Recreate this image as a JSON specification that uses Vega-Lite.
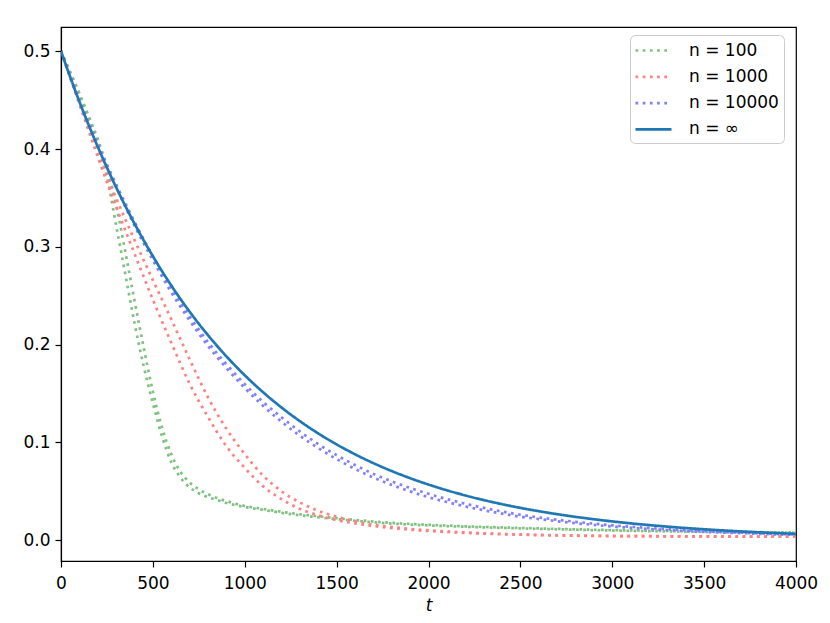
{
  "$schema": "https://vega.github.io/schema/vega-lite/v6.json",
  "width": 735,
  "height": 534,
  "autosize": {"type": "none"},
  "padding": {"left": 61, "top": 27, "right": 34, "bottom": 62},
  "background": "white",
  "datasets": {
    "curves": [
      {"n": "n = 100", "run": "a", "t": 0, "v": 0.5},
      {"n": "n = 100", "run": "a", "t": 50, "v": 0.478},
      {"n": "n = 100", "run": "a", "t": 100, "v": 0.456},
      {"n": "n = 100", "run": "a", "t": 150, "v": 0.432},
      {"n": "n = 100", "run": "a", "t": 200, "v": 0.407},
      {"n": "n = 100", "run": "a", "t": 250, "v": 0.372},
      {"n": "n = 100", "run": "a", "t": 300, "v": 0.322},
      {"n": "n = 100", "run": "a", "t": 350, "v": 0.272},
      {"n": "n = 100", "run": "a", "t": 400, "v": 0.222},
      {"n": "n = 100", "run": "a", "t": 450, "v": 0.178},
      {"n": "n = 100", "run": "a", "t": 500, "v": 0.140},
      {"n": "n = 100", "run": "a", "t": 550, "v": 0.106},
      {"n": "n = 100", "run": "a", "t": 600, "v": 0.080},
      {"n": "n = 100", "run": "a", "t": 650, "v": 0.064},
      {"n": "n = 100", "run": "a", "t": 700, "v": 0.054},
      {"n": "n = 100", "run": "a", "t": 750, "v": 0.048},
      {"n": "n = 100", "run": "a", "t": 800, "v": 0.044},
      {"n": "n = 100", "run": "a", "t": 850, "v": 0.041},
      {"n": "n = 100", "run": "a", "t": 900, "v": 0.038},
      {"n": "n = 100", "run": "a", "t": 1000, "v": 0.034},
      {"n": "n = 100", "run": "a", "t": 1100, "v": 0.031},
      {"n": "n = 100", "run": "a", "t": 1200, "v": 0.028},
      {"n": "n = 100", "run": "a", "t": 1300, "v": 0.0255},
      {"n": "n = 100", "run": "a", "t": 1400, "v": 0.0235},
      {"n": "n = 100", "run": "a", "t": 1500, "v": 0.0215},
      {"n": "n = 100", "run": "a", "t": 1600, "v": 0.0198},
      {"n": "n = 100", "run": "a", "t": 1700, "v": 0.0183},
      {"n": "n = 100", "run": "a", "t": 1800, "v": 0.0170},
      {"n": "n = 100", "run": "a", "t": 1900, "v": 0.0160},
      {"n": "n = 100", "run": "a", "t": 2000, "v": 0.0151},
      {"n": "n = 100", "run": "a", "t": 2200, "v": 0.0137},
      {"n": "n = 100", "run": "a", "t": 2400, "v": 0.0126},
      {"n": "n = 100", "run": "a", "t": 2600, "v": 0.0116},
      {"n": "n = 100", "run": "a", "t": 2800, "v": 0.0107},
      {"n": "n = 100", "run": "a", "t": 3000, "v": 0.0099},
      {"n": "n = 100", "run": "a", "t": 3200, "v": 0.0093},
      {"n": "n = 100", "run": "a", "t": 3400, "v": 0.0088},
      {"n": "n = 100", "run": "a", "t": 3600, "v": 0.0083},
      {"n": "n = 100", "run": "a", "t": 3800, "v": 0.0079},
      {"n": "n = 100", "run": "a", "t": 4000, "v": 0.0075},
      {"n": "n = 100", "run": "b", "t": 0, "v": 0.5},
      {"n": "n = 100", "run": "b", "t": 50, "v": 0.479},
      {"n": "n = 100", "run": "b", "t": 100, "v": 0.457},
      {"n": "n = 100", "run": "b", "t": 150, "v": 0.434},
      {"n": "n = 100", "run": "b", "t": 200, "v": 0.410},
      {"n": "n = 100", "run": "b", "t": 250, "v": 0.381},
      {"n": "n = 100", "run": "b", "t": 300, "v": 0.343},
      {"n": "n = 100", "run": "b", "t": 350, "v": 0.295},
      {"n": "n = 100", "run": "b", "t": 400, "v": 0.245},
      {"n": "n = 100", "run": "b", "t": 450, "v": 0.197},
      {"n": "n = 100", "run": "b", "t": 500, "v": 0.152},
      {"n": "n = 100", "run": "b", "t": 550, "v": 0.115},
      {"n": "n = 100", "run": "b", "t": 600, "v": 0.088},
      {"n": "n = 100", "run": "b", "t": 650, "v": 0.070},
      {"n": "n = 100", "run": "b", "t": 700, "v": 0.059},
      {"n": "n = 100", "run": "b", "t": 750, "v": 0.052},
      {"n": "n = 100", "run": "b", "t": 800, "v": 0.047},
      {"n": "n = 100", "run": "b", "t": 850, "v": 0.043},
      {"n": "n = 100", "run": "b", "t": 900, "v": 0.040},
      {"n": "n = 100", "run": "b", "t": 1000, "v": 0.035},
      {"n": "n = 100", "run": "b", "t": 1100, "v": 0.032},
      {"n": "n = 100", "run": "b", "t": 1200, "v": 0.029},
      {"n": "n = 100", "run": "b", "t": 1300, "v": 0.0265},
      {"n": "n = 100", "run": "b", "t": 1400, "v": 0.0245},
      {"n": "n = 100", "run": "b", "t": 1500, "v": 0.0225},
      {"n": "n = 100", "run": "b", "t": 1600, "v": 0.0207},
      {"n": "n = 100", "run": "b", "t": 1700, "v": 0.0191},
      {"n": "n = 100", "run": "b", "t": 1800, "v": 0.0177},
      {"n": "n = 100", "run": "b", "t": 1900, "v": 0.0166},
      {"n": "n = 100", "run": "b", "t": 2000, "v": 0.0157},
      {"n": "n = 100", "run": "b", "t": 2200, "v": 0.0142},
      {"n": "n = 100", "run": "b", "t": 2400, "v": 0.0130},
      {"n": "n = 100", "run": "b", "t": 2600, "v": 0.0120},
      {"n": "n = 100", "run": "b", "t": 2800, "v": 0.0111},
      {"n": "n = 100", "run": "b", "t": 3000, "v": 0.0103},
      {"n": "n = 100", "run": "b", "t": 3200, "v": 0.0097},
      {"n": "n = 100", "run": "b", "t": 3400, "v": 0.0091},
      {"n": "n = 100", "run": "b", "t": 3600, "v": 0.0086},
      {"n": "n = 100", "run": "b", "t": 3800, "v": 0.0082},
      {"n": "n = 100", "run": "b", "t": 4000, "v": 0.0078},
      {"n": "n = 1000", "run": "a", "t": 0, "v": 0.5},
      {"n": "n = 1000", "run": "a", "t": 100, "v": 0.446},
      {"n": "n = 1000", "run": "a", "t": 200, "v": 0.392},
      {"n": "n = 1000", "run": "a", "t": 300, "v": 0.341},
      {"n": "n = 1000", "run": "a", "t": 400, "v": 0.293},
      {"n": "n = 1000", "run": "a", "t": 500, "v": 0.246},
      {"n": "n = 1000", "run": "a", "t": 600, "v": 0.202},
      {"n": "n = 1000", "run": "a", "t": 700, "v": 0.160},
      {"n": "n = 1000", "run": "a", "t": 800, "v": 0.126},
      {"n": "n = 1000", "run": "a", "t": 900, "v": 0.096},
      {"n": "n = 1000", "run": "a", "t": 1000, "v": 0.074},
      {"n": "n = 1000", "run": "a", "t": 1100, "v": 0.055},
      {"n": "n = 1000", "run": "a", "t": 1200, "v": 0.042},
      {"n": "n = 1000", "run": "a", "t": 1300, "v": 0.032},
      {"n": "n = 1000", "run": "a", "t": 1400, "v": 0.0255},
      {"n": "n = 1000", "run": "a", "t": 1500, "v": 0.0205},
      {"n": "n = 1000", "run": "a", "t": 1600, "v": 0.0172},
      {"n": "n = 1000", "run": "a", "t": 1700, "v": 0.0145},
      {"n": "n = 1000", "run": "a", "t": 1800, "v": 0.0124},
      {"n": "n = 1000", "run": "a", "t": 1900, "v": 0.0107},
      {"n": "n = 1000", "run": "a", "t": 2000, "v": 0.0094},
      {"n": "n = 1000", "run": "a", "t": 2200, "v": 0.0075},
      {"n": "n = 1000", "run": "a", "t": 2400, "v": 0.0061},
      {"n": "n = 1000", "run": "a", "t": 2600, "v": 0.0052},
      {"n": "n = 1000", "run": "a", "t": 2800, "v": 0.0046},
      {"n": "n = 1000", "run": "a", "t": 3000, "v": 0.0042},
      {"n": "n = 1000", "run": "a", "t": 3200, "v": 0.0040},
      {"n": "n = 1000", "run": "a", "t": 3400, "v": 0.0038},
      {"n": "n = 1000", "run": "a", "t": 3600, "v": 0.0037},
      {"n": "n = 1000", "run": "a", "t": 3800, "v": 0.0036},
      {"n": "n = 1000", "run": "a", "t": 4000, "v": 0.0035},
      {"n": "n = 1000", "run": "b", "t": 0, "v": 0.5},
      {"n": "n = 1000", "run": "b", "t": 100, "v": 0.447},
      {"n": "n = 1000", "run": "b", "t": 200, "v": 0.397},
      {"n": "n = 1000", "run": "b", "t": 300, "v": 0.350},
      {"n": "n = 1000", "run": "b", "t": 400, "v": 0.307},
      {"n": "n = 1000", "run": "b", "t": 500, "v": 0.266},
      {"n": "n = 1000", "run": "b", "t": 600, "v": 0.226},
      {"n": "n = 1000", "run": "b", "t": 700, "v": 0.185},
      {"n": "n = 1000", "run": "b", "t": 800, "v": 0.146},
      {"n": "n = 1000", "run": "b", "t": 900, "v": 0.114},
      {"n": "n = 1000", "run": "b", "t": 1000, "v": 0.088},
      {"n": "n = 1000", "run": "b", "t": 1100, "v": 0.066},
      {"n": "n = 1000", "run": "b", "t": 1200, "v": 0.050},
      {"n": "n = 1000", "run": "b", "t": 1300, "v": 0.0386},
      {"n": "n = 1000", "run": "b", "t": 1400, "v": 0.030},
      {"n": "n = 1000", "run": "b", "t": 1500, "v": 0.0240},
      {"n": "n = 1000", "run": "b", "t": 1600, "v": 0.0192},
      {"n": "n = 1000", "run": "b", "t": 1700, "v": 0.0158},
      {"n": "n = 1000", "run": "b", "t": 1800, "v": 0.0134},
      {"n": "n = 1000", "run": "b", "t": 1900, "v": 0.0115},
      {"n": "n = 1000", "run": "b", "t": 2000, "v": 0.0100},
      {"n": "n = 1000", "run": "b", "t": 2200, "v": 0.0079},
      {"n": "n = 1000", "run": "b", "t": 2400, "v": 0.0064},
      {"n": "n = 1000", "run": "b", "t": 2600, "v": 0.0054},
      {"n": "n = 1000", "run": "b", "t": 2800, "v": 0.0048},
      {"n": "n = 1000", "run": "b", "t": 3000, "v": 0.0043},
      {"n": "n = 1000", "run": "b", "t": 3200, "v": 0.0041},
      {"n": "n = 1000", "run": "b", "t": 3400, "v": 0.0039},
      {"n": "n = 1000", "run": "b", "t": 3600, "v": 0.0038},
      {"n": "n = 1000", "run": "b", "t": 3800, "v": 0.0037},
      {"n": "n = 1000", "run": "b", "t": 4000, "v": 0.0036},
      {"n": "n = 10000", "run": "a", "t": 0, "v": 0.5},
      {"n": "n = 10000", "run": "a", "t": 100, "v": 0.4505},
      {"n": "n = 10000", "run": "a", "t": 200, "v": 0.4053},
      {"n": "n = 10000", "run": "a", "t": 300, "v": 0.3639},
      {"n": "n = 10000", "run": "a", "t": 400, "v": 0.3257},
      {"n": "n = 10000", "run": "a", "t": 500, "v": 0.2904},
      {"n": "n = 10000", "run": "a", "t": 600, "v": 0.2575},
      {"n": "n = 10000", "run": "a", "t": 700, "v": 0.2287},
      {"n": "n = 10000", "run": "a", "t": 800, "v": 0.2026},
      {"n": "n = 10000", "run": "a", "t": 900, "v": 0.1800},
      {"n": "n = 10000", "run": "a", "t": 1000, "v": 0.1596},
      {"n": "n = 10000", "run": "a", "t": 1100, "v": 0.1413},
      {"n": "n = 10000", "run": "a", "t": 1200, "v": 0.1257},
      {"n": "n = 10000", "run": "a", "t": 1300, "v": 0.1112},
      {"n": "n = 10000", "run": "a", "t": 1400, "v": 0.0982},
      {"n": "n = 10000", "run": "a", "t": 1500, "v": 0.0869},
      {"n": "n = 10000", "run": "a", "t": 1600, "v": 0.0769},
      {"n": "n = 10000", "run": "a", "t": 1700, "v": 0.0678},
      {"n": "n = 10000", "run": "a", "t": 1800, "v": 0.0602},
      {"n": "n = 10000", "run": "a", "t": 1900, "v": 0.0534},
      {"n": "n = 10000", "run": "a", "t": 2000, "v": 0.0474},
      {"n": "n = 10000", "run": "a", "t": 2100, "v": 0.0420},
      {"n": "n = 10000", "run": "a", "t": 2200, "v": 0.0373},
      {"n": "n = 10000", "run": "a", "t": 2300, "v": 0.0331},
      {"n": "n = 10000", "run": "a", "t": 2400, "v": 0.0293},
      {"n": "n = 10000", "run": "a", "t": 2500, "v": 0.0260},
      {"n": "n = 10000", "run": "a", "t": 2600, "v": 0.0233},
      {"n": "n = 10000", "run": "a", "t": 2700, "v": 0.0209},
      {"n": "n = 10000", "run": "a", "t": 2800, "v": 0.0188},
      {"n": "n = 10000", "run": "a", "t": 2900, "v": 0.0169},
      {"n": "n = 10000", "run": "a", "t": 3000, "v": 0.0152},
      {"n": "n = 10000", "run": "a", "t": 3100, "v": 0.0137},
      {"n": "n = 10000", "run": "a", "t": 3200, "v": 0.0124},
      {"n": "n = 10000", "run": "a", "t": 3300, "v": 0.0113},
      {"n": "n = 10000", "run": "a", "t": 3400, "v": 0.0102},
      {"n": "n = 10000", "run": "a", "t": 3500, "v": 0.0092},
      {"n": "n = 10000", "run": "a", "t": 3600, "v": 0.0084},
      {"n": "n = 10000", "run": "a", "t": 3700, "v": 0.0077},
      {"n": "n = 10000", "run": "a", "t": 3800, "v": 0.0069},
      {"n": "n = 10000", "run": "a", "t": 3900, "v": 0.0063},
      {"n": "n = 10000", "run": "a", "t": 4000, "v": 0.0058},
      {"n": "n = 10000", "run": "b", "t": 0, "v": 0.5},
      {"n": "n = 10000", "run": "b", "t": 100, "v": 0.4495},
      {"n": "n = 10000", "run": "b", "t": 200, "v": 0.4033},
      {"n": "n = 10000", "run": "b", "t": 300, "v": 0.3609},
      {"n": "n = 10000", "run": "b", "t": 400, "v": 0.3217},
      {"n": "n = 10000", "run": "b", "t": 500, "v": 0.2864},
      {"n": "n = 10000", "run": "b", "t": 600, "v": 0.2535},
      {"n": "n = 10000", "run": "b", "t": 700, "v": 0.2247},
      {"n": "n = 10000", "run": "b", "t": 800, "v": 0.1986},
      {"n": "n = 10000", "run": "b", "t": 900, "v": 0.1760},
      {"n": "n = 10000", "run": "b", "t": 1000, "v": 0.1556},
      {"n": "n = 10000", "run": "b", "t": 1100, "v": 0.1373},
      {"n": "n = 10000", "run": "b", "t": 1200, "v": 0.1212},
      {"n": "n = 10000", "run": "b", "t": 1300, "v": 0.1067},
      {"n": "n = 10000", "run": "b", "t": 1400, "v": 0.0942},
      {"n": "n = 10000", "run": "b", "t": 1500, "v": 0.0829},
      {"n": "n = 10000", "run": "b", "t": 1600, "v": 0.0729},
      {"n": "n = 10000", "run": "b", "t": 1700, "v": 0.0640},
      {"n": "n = 10000", "run": "b", "t": 1800, "v": 0.0565},
      {"n": "n = 10000", "run": "b", "t": 1900, "v": 0.0499},
      {"n": "n = 10000", "run": "b", "t": 2000, "v": 0.0439},
      {"n": "n = 10000", "run": "b", "t": 2100, "v": 0.0390},
      {"n": "n = 10000", "run": "b", "t": 2200, "v": 0.0345},
      {"n": "n = 10000", "run": "b", "t": 2300, "v": 0.0306},
      {"n": "n = 10000", "run": "b", "t": 2400, "v": 0.0271},
      {"n": "n = 10000", "run": "b", "t": 2500, "v": 0.0240},
      {"n": "n = 10000", "run": "b", "t": 2600, "v": 0.0216},
      {"n": "n = 10000", "run": "b", "t": 2700, "v": 0.0194},
      {"n": "n = 10000", "run": "b", "t": 2800, "v": 0.0173},
      {"n": "n = 10000", "run": "b", "t": 2900, "v": 0.0156},
      {"n": "n = 10000", "run": "b", "t": 3000, "v": 0.0140},
      {"n": "n = 10000", "run": "b", "t": 3100, "v": 0.0126},
      {"n": "n = 10000", "run": "b", "t": 3200, "v": 0.0114},
      {"n": "n = 10000", "run": "b", "t": 3300, "v": 0.0104},
      {"n": "n = 10000", "run": "b", "t": 3400, "v": 0.0094},
      {"n": "n = 10000", "run": "b", "t": 3500, "v": 0.0085},
      {"n": "n = 10000", "run": "b", "t": 3600, "v": 0.0078},
      {"n": "n = 10000", "run": "b", "t": 3700, "v": 0.0072},
      {"n": "n = 10000", "run": "b", "t": 3800, "v": 0.0065},
      {"n": "n = 10000", "run": "b", "t": 3900, "v": 0.0059},
      {"n": "n = 10000", "run": "b", "t": 4000, "v": 0.0055},
      {"n": "n = ∞", "run": "a", "t": 0, "v": 0.5},
      {"n": "n = ∞", "run": "a", "t": 100, "v": 0.44851},
      {"n": "n = ∞", "run": "a", "t": 200, "v": 0.40231},
      {"n": "n = ∞", "run": "a", "t": 300, "v": 0.36088},
      {"n": "n = ∞", "run": "a", "t": 400, "v": 0.32372},
      {"n": "n = ∞", "run": "a", "t": 500, "v": 0.29038},
      {"n": "n = ∞", "run": "a", "t": 600, "v": 0.26047},
      {"n": "n = ∞", "run": "a", "t": 700, "v": 0.23365},
      {"n": "n = ∞", "run": "a", "t": 800, "v": 0.20958},
      {"n": "n = ∞", "run": "a", "t": 900, "v": 0.18800},
      {"n": "n = ∞", "run": "a", "t": 1000, "v": 0.16864},
      {"n": "n = ∞", "run": "a", "t": 1100, "v": 0.15127},
      {"n": "n = ∞", "run": "a", "t": 1200, "v": 0.13569},
      {"n": "n = ∞", "run": "a", "t": 1300, "v": 0.12172},
      {"n": "n = ∞", "run": "a", "t": 1400, "v": 0.10918},
      {"n": "n = ∞", "run": "a", "t": 1500, "v": 0.09794},
      {"n": "n = ∞", "run": "a", "t": 1600, "v": 0.08785},
      {"n": "n = ∞", "run": "a", "t": 1700, "v": 0.07880},
      {"n": "n = ∞", "run": "a", "t": 1800, "v": 0.07069},
      {"n": "n = ∞", "run": "a", "t": 1900, "v": 0.06341},
      {"n": "n = ∞", "run": "a", "t": 2000, "v": 0.05688},
      {"n": "n = ∞", "run": "a", "t": 2100, "v": 0.05102},
      {"n": "n = ∞", "run": "a", "t": 2200, "v": 0.04577},
      {"n": "n = ∞", "run": "a", "t": 2300, "v": 0.04105},
      {"n": "n = ∞", "run": "a", "t": 2400, "v": 0.03683},
      {"n": "n = ∞", "run": "a", "t": 2500, "v": 0.03303},
      {"n": "n = ∞", "run": "a", "t": 2600, "v": 0.02963},
      {"n": "n = ∞", "run": "a", "t": 2700, "v": 0.02658},
      {"n": "n = ∞", "run": "a", "t": 2800, "v": 0.02384},
      {"n": "n = ∞", "run": "a", "t": 2900, "v": 0.02139},
      {"n": "n = ∞", "run": "a", "t": 3000, "v": 0.01919},
      {"n": "n = ∞", "run": "a", "t": 3100, "v": 0.01721},
      {"n": "n = ∞", "run": "a", "t": 3200, "v": 0.01544},
      {"n": "n = ∞", "run": "a", "t": 3300, "v": 0.01385},
      {"n": "n = ∞", "run": "a", "t": 3400, "v": 0.01242},
      {"n": "n = ∞", "run": "a", "t": 3500, "v": 0.01114},
      {"n": "n = ∞", "run": "a", "t": 3600, "v": 0.00999},
      {"n": "n = ∞", "run": "a", "t": 3700, "v": 0.00896},
      {"n": "n = ∞", "run": "a", "t": 3800, "v": 0.00804},
      {"n": "n = ∞", "run": "a", "t": 3900, "v": 0.00721},
      {"n": "n = ∞", "run": "a", "t": 4000, "v": 0.00647}
    ]
  },
  "data": {"name": "curves"},
  "mark": {"type": "line", "interpolate": "monotone", "strokeWidth": 2.7, "clip": true},
  "encoding": {
    "x": {
      "field": "t", "type": "quantitative",
      "scale": {"domain": [0, 4000], "nice": false, "zero": false},
      "axis": {"values": [0, 500, 1000, 1500, 2000, 2500, 3000, 3500, 4000], "format": "d", "title": "t", "titleFontStyle": "italic", "labelFlush": false, "labelPadding": 8, "titlePadding": 6}
    },
    "y": {
      "field": "v", "type": "quantitative",
      "scale": {"domain": [-0.0213, 0.5248], "nice": false, "zero": false},
      "axis": {"values": [0, 0.1, 0.2, 0.3, 0.4, 0.5], "format": ".1f", "title": null}
    },
    "color": {
      "field": "n", "type": "nominal",
      "scale": {"domain": ["n = 100", "n = 1000", "n = 10000", "n = ∞"], "range": ["#80c080", "#ff8080", "#8080ff", "#1f77b4"]},
      "legend": {"title": null, "orient": "none", "legendX": 569, "legendY": 8}
    },
    "strokeDash": {
      "field": "n", "type": "nominal",
      "scale": {"domain": ["n = 100", "n = 1000", "n = 10000", "n = ∞"], "range": [[2.7, 4.5], [2.7, 4.5], [2.7, 4.5], [1, 0]]},
      "legend": {"title": null, "orient": "none", "legendX": 569, "legendY": 8}
    },
    "detail": {"field": "run", "type": "nominal"}
  },
  "config": {
    "view": {"stroke": "black", "strokeWidth": 1.2},
    "font": "DejaVu Sans",
    "axis": {
      "domainColor": "black", "domainWidth": 1.2,
      "tickColor": "black", "tickWidth": 1.2, "tickSize": 6,
      "labelFont": "DejaVu Sans", "labelFontSize": 17, "labelColor": "black", "labelPadding": 5,
      "titleFont": "DejaVu Sans", "titleFontSize": 17, "titleFontWeight": "normal", "titleColor": "black",
      "grid": false, "labelOverlap": false
    },
    "legend": {
      "labelFont": "DejaVu Sans", "labelFontSize": 17, "labelColor": "black",
      "symbolType": "M-2,0H2", "symbolSize": 324, "symbolStrokeWidth": 2.7, "symbolOffset": 8,
      "padding": 5, "rowPadding": 7.3, "labelOffset": 25,
      "strokeColor": "#cccccc", "cornerRadius": 5, "fillColor": "rgba(255,255,255,0.8)"
    }
  }
}
